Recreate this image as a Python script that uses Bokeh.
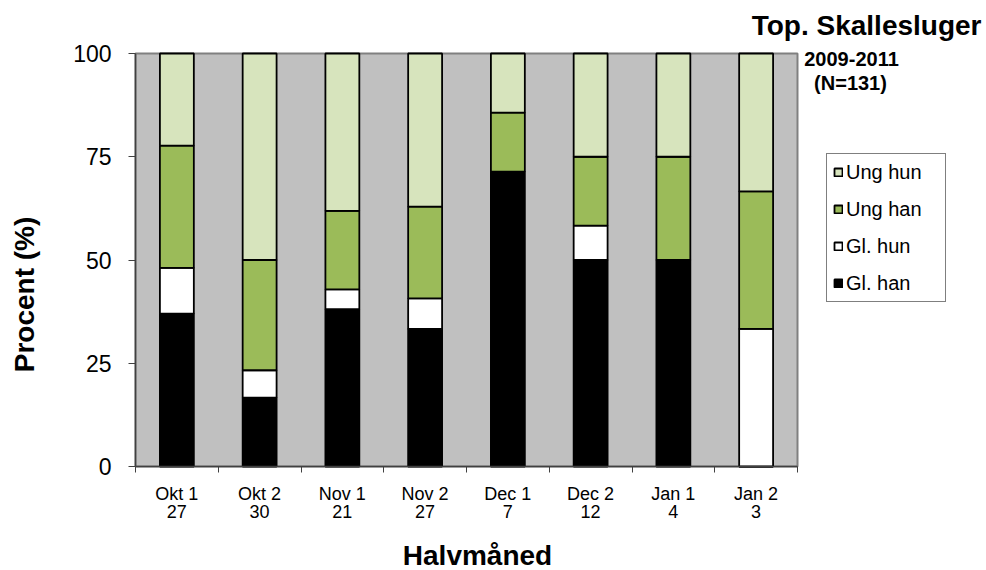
import math
from bokeh.plotting import figure
from bokeh.models import (ColumnDataSource, FixedTicker, Legend, LegendItem,
                          Label, Range1d)
from bokeh.embed import file_html
from bokeh.resources import INLINE

# ---- data (percent of birds per half-month) ----
periods = ["Okt 1", "Okt 2", "Nov 1", "Nov 2", "Dec 1", "Dec 2", "Jan 1", "Jan 2"]
n_birds = [27, 30, 21, 27, 7, 12, 4, 3]
gl_han = [37.0, 16.7, 38.1, 33.3, 71.4, 50.0, 50.0, 0.0]
gl_hun = [11.1, 6.6, 4.8, 7.4, 0.0, 8.3, 0.0, 33.3]
ung_han = [29.6, 26.7, 19.0, 22.2, 14.3, 16.7, 25.0, 33.3]
ung_hun = [22.3, 50.0, 38.1, 37.1, 14.3, 25.0, 25.0, 33.4]
y_ticks = [0, 25, 50, 75, 100]
series_names = ["Gl. han", "Gl. hun", "Ung han", "Ung hun"]
colors = ["#000000", "#FFFFFF", "#9BBB59", "#D7E4BD"]

FONT = "Liberation Sans"
W, H = 986, 570
# plot-area placement on the canvas (pixels)
PL, PR, PT, PB = 135, 797, 53, 466
NCAT = len(periods)
YMIN, YMAX = y_ticks[0], y_ticks[-1]


def px_x(sx):
    return (sx - PL) / (PR - PL) * NCAT


def px_y(sy):
    return YMIN + (PB - sy) / (PB - PT) * (YMAX - YMIN)


xs = [i + 0.5 for i in range(NCAT)]
src = ColumnDataSource(dict(x=xs, **{"Gl. han": gl_han, "Gl. hun": gl_hun,
                                      "Ung han": ung_han, "Ung hun": ung_hun}))

p = figure(width=W, height=H, output_backend="svg", toolbar_location=None,
           x_range=Range1d(px_x(0), px_x(W)), y_range=Range1d(px_y(H), px_y(0)),
           min_border=0)
p.background_fill_color = "white"
p.border_fill_color = "white"
p.outline_line_color = None
p.grid.visible = False

# grey plot area
p.quad(left=[0], right=[NCAT], bottom=[YMIN], top=[YMAX],
       fill_color="#C0C0C0", line_color="#808080", line_width=2)

renderers = p.vbar_stack(series_names, x="x", width=0.41, source=src,
                         fill_color=colors, line_color="black", line_width=1.8)

# x axis
xa = p.xaxis[0]
xa.fixed_location = YMIN
xa.bounds = (0, NCAT)
xa.ticker = FixedTicker(ticks=xs, minor_ticks=list(range(NCAT + 1)))
xa.major_label_overrides = {x: f"{a}\n{n}" for x, a, n in zip(xs, periods, n_birds)}
xa.major_tick_out = 0
xa.major_tick_in = 0
xa.minor_tick_out = 6
xa.minor_tick_in = 0
xa.minor_tick_line_color = "#404040"
xa.axis_line_color = "#404040"
xa.axis_line_width = 1.5
xa.major_label_text_font = FONT
xa.major_label_text_font_size = "18px"
xa.major_label_text_line_height = 0.9
xa.major_label_text_color = "black"
xa.major_label_standoff = 11

# y axis
ya = p.yaxis[0]
ya.fixed_location = 0
ya.bounds = (YMIN, YMAX)
ya.ticker = FixedTicker(ticks=y_ticks)
ya.major_tick_out = 7
ya.major_tick_in = 0
ya.minor_tick_out = 0
ya.minor_tick_in = 0
ya.major_tick_line_color = "#404040"
ya.axis_line_color = "#404040"
ya.axis_line_width = 1.5
ya.major_label_text_font = FONT
ya.major_label_text_font_size = "23px"
ya.major_label_text_color = "black"
ya.major_label_standoff = 17

# legend (reverse of stacking order)
items = [LegendItem(label=name, renderers=[r])
         for name, r in reversed(list(zip(series_names, renderers)))]
legend = Legend(items=items, location=(826, H - 302), orientation="vertical",
                glyph_width=10, glyph_height=10, label_height=24, label_width=93,
                spacing=13, padding=6, margin=0, label_standoff=3,
                border_line_color="black", border_line_width=1,
                background_fill_color="white", background_fill_alpha=1.0,
                label_text_font=FONT, label_text_font_size="20px",
                label_text_color="black")
p.add_layout(legend)


def add_text(text, sx, sy, size, align="center", angle=0.0):
    p.add_layout(Label(x=px_x(sx), y=px_y(sy), text=text, text_font=FONT,
                       text_font_size=size, text_font_style="bold",
                       text_align=align, text_baseline="middle",
                       text_color="black", angle=angle))


add_text("Top. Skallesluger", 981, 25, "28px", align="right")
add_text("2009-2011", 851, 58, "20px")
add_text("(N=131)", 850, 82, "20px")
add_text("Procent (%)", 24, 294, "28px", angle=math.pi / 2)
add_text("Halvmåned", 477, 555, "28px")

open("out.html", "w").write(file_html(p, INLINE))
